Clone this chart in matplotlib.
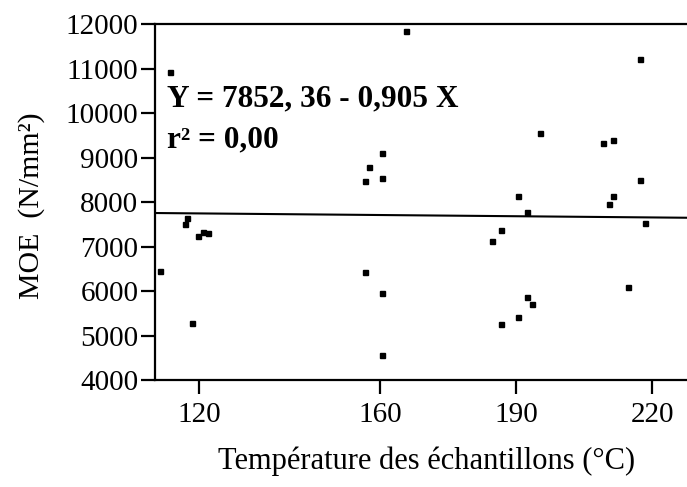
import matplotlib
matplotlib.use("Agg")
import matplotlib.pyplot as plt
import numpy as np

plt.rcParams['font.family'] = ['Liberation Serif', 'DejaVu Serif']

# Data
temperature = [113.6, 117.4, 116.9, 121.0, 122.0, 119.8, 111.4, 118.4,
               165.7, 160.5, 157.6, 156.6, 160.5, 156.6, 160.5, 160.5,
               195.2, 190.4, 192.3, 186.6, 184.6, 192.4, 193.4, 190.4, 186.6,
               217.3, 209.2, 211.3, 217.4, 211.4, 210.4, 218.4, 214.6]
moe = [10930, 7647, 7506, 7330, 7300, 7240, 6442, 5281,
       11843, 9094, 8793, 8479, 8532, 6434, 5948, 4562,
       9558, 8142, 7782, 7371, 7124, 5872, 5701, 5409, 5251,
       11206, 9333, 9386, 8494, 8142, 7955, 7521, 6097]

intercept = 7852.36
slope = -0.905

x_ticks = [120, 160, 190, 220]
y_ticks = [4000, 5000, 6000, 7000, 8000, 9000, 10000, 11000, 12000]

fig = plt.figure(figsize=(6.87, 4.87), dpi=100)
ax = fig.add_axes([0.2256, 0.2197, 0.7744, 0.7310])

xlim = (110.3, 227.7)
ax.set_xlim(*xlim)
ax.set_ylim(4000, 12000)

ax.plot(temperature, moe, 's', color='black', markersize=3.6, linestyle='none')

xl = np.array(xlim)
ax.plot(xl, intercept + slope * xl, color='black', lw=1.5)

ax.spines['right'].set_visible(False)
for s in ['left', 'top', 'bottom']:
    ax.spines[s].set_linewidth(1.6)

ax.set_xticks(x_ticks)
ax.set_xticklabels([str(v) for v in x_ticks])
ax.set_yticks(y_ticks)
ax.set_yticklabels([str(v) for v in y_ticks])
ax.tick_params(axis='both', direction='out', length=10, width=1.6, labelsize=21, pad=2)
ax.tick_params(axis='x', pad=6)

ax.set_xlabel('Température des échantillons (°C)', fontsize=22, va='center')
ax.xaxis.set_label_coords(0.511, -0.228)
ax.set_ylabel('MOE  (N/mm²)', fontsize=21.5, va='center')
ax.yaxis.set_label_coords(-0.232, 0.49)

ax.text(113.0, 10150, 'Y = 7852, 36 - 0,905 X', fontsize=22.5, fontweight='bold', va='baseline')
ax.text(113.0, 9220, 'r² = 0,00', fontsize=22.5, fontweight='bold', va='baseline')

fig.savefig('out.png', dpi=100)
